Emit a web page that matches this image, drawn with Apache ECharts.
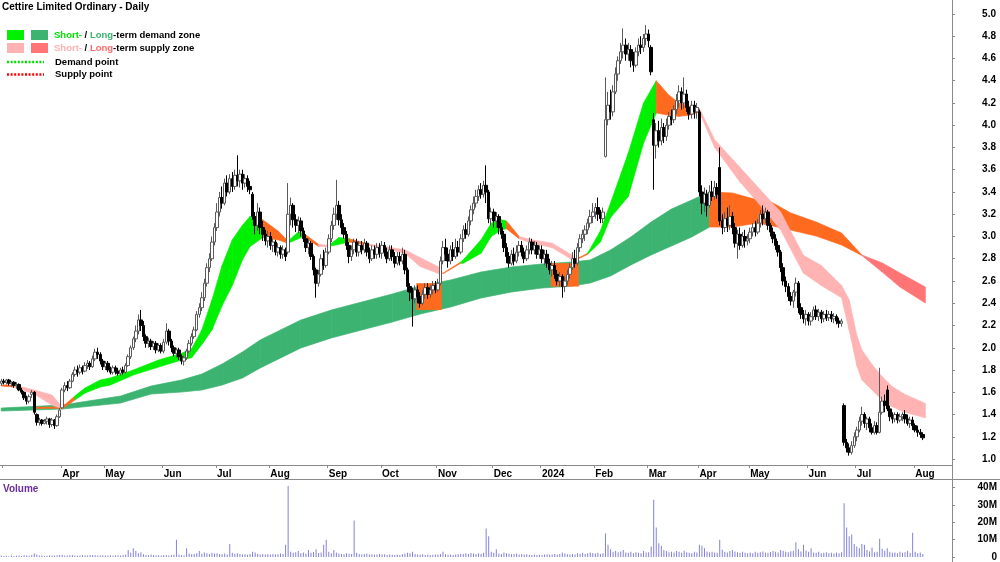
<!DOCTYPE html>
<html><head><meta charset="utf-8">
<script src="https://cdn.jsdelivr.net/npm/echarts@6/dist/echarts.min.js"></script>
<style>html,body{margin:0;padding:0;background:#fff}#c{width:1000px;height:562px}</style>
</head><body><div id="c"></div>
<script>
// ---------- calendar ----------
const firstDay = '2023-02-28';
const extraSlots = 11; // empty trading days at right edge
const holidays = ['2023-04-07','2023-04-10','2023-04-25','2023-06-12','2023-12-25','2023-12-26',
  '2024-01-01','2024-01-26','2024-03-29','2024-04-01','2024-04-25','2024-06-10'];
const monthNames = ['Jan','Feb','Mar','Apr','May','Jun','Jul','Aug','Sep','Oct','Nov','Dec'];

// ---------- tick labels ----------
const priceTicks = [1.0,1.2,1.4,1.6,1.8,2.0,2.2,2.4,2.6,2.8,3.0,3.2,3.4,3.6,3.8,4.0,4.2,4.4,4.6,4.8,5.0];
const volumeTicks = [0,10,20,30,40]; // millions

// ---------- daily candles [open, close, low, high] ----------
const candles = [
// 2023 Feb 28 + Mar
[1.68,1.70,1.66,1.72],[1.70,1.69,1.67,1.72],[1.69,1.71,1.67,1.72],[1.71,1.68,1.66,1.72],[1.68,1.69,1.65,1.70],[1.69,1.66,1.64,1.70],[1.66,1.67,1.63,1.69],[1.67,1.62,1.61,1.68],[1.62,1.60,1.58,1.64],[1.60,1.55,1.53,1.61],[1.55,1.52,1.49,1.57],[1.52,1.56,1.50,1.58],[1.58,1.60,1.55,1.62],[1.60,1.42,1.40,1.61],[1.40,1.33,1.30,1.41],[1.33,1.35,1.30,1.37],[1.35,1.32,1.30,1.36],[1.32,1.34,1.31,1.36],[1.34,1.36,1.31,1.38],[1.36,1.31,1.28,1.37],[1.31,1.35,1.29,1.37],[1.35,1.30,1.27,1.36],[1.30,1.38,1.29,1.40],[1.38,1.44,1.37,1.46],
// Apr
[1.46,1.62,1.45,1.64],[1.62,1.66,1.60,1.69],[1.66,1.64,1.61,1.70],[1.64,1.70,1.63,1.72],[1.70,1.76,1.69,1.78],[1.76,1.80,1.74,1.83],[1.80,1.78,1.74,1.84],[1.78,1.82,1.76,1.85],[1.82,1.79,1.76,1.84],[1.79,1.84,1.78,1.87],[1.84,1.86,1.81,1.89],[1.86,1.83,1.80,1.88],[1.83,1.90,1.82,1.93],[1.90,1.96,1.88,1.99],[1.96,1.94,1.90,2.00],[1.94,1.88,1.85,1.96],[1.88,1.83,1.80,1.90],
// May
[1.83,1.86,1.80,1.88],[1.86,1.80,1.78,1.88],[1.80,1.78,1.76,1.83],[1.78,1.82,1.76,1.84],[1.82,1.79,1.76,1.84],[1.79,1.77,1.75,1.82],[1.77,1.80,1.75,1.82],[1.80,1.78,1.76,1.83],[1.78,1.84,1.77,1.86],[1.84,1.92,1.83,1.94],[1.92,2.00,1.90,2.02],[2.00,2.08,1.98,2.10],[2.08,2.15,2.05,2.20],[2.15,2.25,2.12,2.30],[2.25,2.20,2.15,2.34],[2.20,2.10,2.06,2.24],[2.10,2.04,2.00,2.12],[2.04,2.06,2.00,2.09],[2.06,2.01,1.98,2.08],[2.01,2.04,1.98,2.06],[2.04,1.98,1.95,2.06],[1.98,2.02,1.96,2.04],[2.02,1.97,1.95,2.04],
// Jun
[1.97,2.05,1.95,2.08],[2.05,2.15,2.03,2.22],[2.15,2.06,2.02,2.17],[2.06,2.00,1.96,2.08],[2.00,1.95,1.92,2.02],[1.95,1.98,1.91,2.00],[1.98,1.92,1.89,2.00],[1.92,1.88,1.85,1.94],[1.88,1.91,1.84,1.93],[1.91,1.97,1.89,1.99],[1.97,2.04,1.95,2.07],[2.04,2.10,2.02,2.13],[2.10,2.16,2.08,2.19],[2.16,2.30,2.15,2.33],[2.30,2.36,2.27,2.40],[2.36,2.45,2.33,2.50],[2.45,2.58,2.42,2.62],[2.58,2.72,2.55,2.76],[2.72,2.80,2.68,2.85],[2.80,2.95,2.78,3.00],[2.95,3.08,2.92,3.12],
// Jul
[3.08,3.22,3.05,3.30],[3.22,3.35,3.18,3.40],[3.35,3.30,3.25,3.45],[3.30,3.48,3.28,3.52],[3.48,3.40,3.36,3.55],[3.40,3.52,3.38,3.56],[3.52,3.45,3.40,3.58],[3.45,3.55,3.42,3.60],[3.55,3.50,3.45,3.73],[3.50,3.56,3.44,3.60],[3.56,3.48,3.42,3.60],[3.48,3.52,3.44,3.56],[3.52,3.45,3.40,3.55],[3.45,3.42,3.38,3.50],[3.38,3.18,3.15,3.40],[3.18,3.10,3.02,3.22],[3.10,3.22,3.05,3.30],[3.22,3.08,3.02,3.26],[3.08,3.02,2.96,3.14],[3.02,2.96,2.92,3.06],[2.96,3.00,2.90,3.05],
// Aug
[3.00,2.92,2.88,3.04],[2.92,2.95,2.86,2.98],[2.95,2.86,2.83,2.97],[2.86,2.90,2.82,2.94],[2.90,2.84,2.80,2.92],[2.84,2.88,2.80,2.92],[2.88,2.82,2.78,2.90],[2.86,3.20,2.84,3.48],[3.20,3.28,3.10,3.35],[3.28,3.15,3.08,3.30],[3.15,3.10,3.04,3.20],[3.10,3.14,3.03,3.18],[3.14,3.05,3.00,3.17],[3.05,2.98,2.95,3.08],[2.98,2.90,2.86,3.02],[2.90,2.94,2.84,2.98],[2.94,2.82,2.79,2.96],[2.82,2.70,2.65,2.84],[2.70,2.58,2.45,2.72],[2.58,2.66,2.55,2.70],[2.66,2.80,2.64,2.84],[2.80,2.74,2.70,2.88],[2.74,2.86,2.72,2.90],
// Sep
[2.86,2.98,2.84,3.02],[2.98,3.10,2.95,3.14],[3.10,3.20,3.06,3.26],[3.20,3.28,3.15,3.51],[3.28,3.15,3.10,3.32],[3.15,3.08,3.02,3.20],[3.08,3.02,2.98,3.12],[3.02,2.92,2.88,3.05],[2.92,2.82,2.76,2.95],[2.82,2.88,2.78,2.92],[2.88,2.95,2.84,2.98],[2.95,2.86,2.82,2.98],[2.86,2.92,2.82,2.96],[2.92,2.88,2.84,2.96],[2.88,2.94,2.85,2.98],[2.94,2.86,2.82,2.96],[2.86,2.80,2.76,2.90],[2.80,2.88,2.78,2.92],[2.88,2.84,2.80,2.92],[2.84,2.90,2.80,2.94],[2.90,2.85,2.81,2.94],
// Oct
[2.85,2.92,2.80,2.96],[2.92,2.86,2.82,2.95],[2.86,2.80,2.76,2.90],[2.80,2.88,2.78,2.92],[2.88,2.82,2.78,2.92],[2.82,2.76,2.72,2.86],[2.76,2.82,2.74,2.86],[2.82,2.78,2.74,2.86],[2.78,2.84,2.75,2.90],[2.84,2.70,2.66,2.88],[2.70,2.55,2.50,2.72],[2.55,2.50,2.42,2.58],[2.50,2.44,2.19,2.54],[2.44,2.52,2.40,2.56],[2.52,2.46,2.40,2.56],[2.46,2.40,2.36,2.50],[2.40,2.48,2.38,2.52],[2.48,2.54,2.44,2.58],[2.54,2.48,2.44,2.58],[2.48,2.52,2.45,2.56],[2.52,2.56,2.48,2.60],[2.56,2.52,2.49,2.60],
// Nov
[2.52,2.58,2.50,2.62],[2.58,2.78,2.56,2.82],[2.78,2.90,2.75,2.96],[2.90,2.84,2.78,2.98],[2.84,2.78,2.72,2.90],[2.78,2.88,2.75,2.92],[2.88,2.82,2.78,2.95],[2.82,2.90,2.80,2.98],[2.90,2.86,2.82,2.96],[2.86,2.98,2.84,3.02],[2.98,3.06,2.95,3.10],[3.06,3.02,2.98,3.12],[3.02,3.14,3.00,3.18],[3.14,3.24,3.10,3.28],[3.24,3.30,3.20,3.36],[3.30,3.36,3.26,3.42],[3.36,3.42,3.32,3.46],[3.42,3.38,3.34,3.48],[3.38,3.46,3.35,3.50],[3.46,3.40,3.30,3.64],[3.40,3.16,3.12,3.42],[3.16,3.22,3.10,3.26],
// Dec
[3.22,3.14,3.08,3.25],[3.14,3.18,3.08,3.22],[3.18,3.08,3.02,3.20],[3.08,3.02,2.98,3.12],[3.02,2.90,2.86,3.05],[2.90,2.82,2.76,2.94],[2.82,2.76,2.72,2.86],[2.76,2.84,2.74,2.88],[2.84,2.78,2.74,2.90],[2.78,2.86,2.76,2.92],[2.86,2.92,2.82,2.96],[2.92,2.86,2.82,2.96],[2.86,2.80,2.76,2.90],[2.80,2.88,2.78,2.92],[2.88,2.95,2.84,2.99],[2.95,2.88,2.84,2.98],[2.88,2.92,2.84,2.96],[2.92,2.84,2.80,2.95],[2.84,2.88,2.80,2.92],
// 2024 Jan
[2.88,2.80,2.76,2.92],[2.80,2.84,2.74,2.88],[2.84,2.76,2.72,2.88],[2.76,2.70,2.66,2.80],[2.70,2.74,2.64,2.78],[2.74,2.66,2.62,2.78],[2.66,2.60,2.56,2.70],[2.60,2.64,2.55,2.68],[2.64,2.55,2.45,2.66],[2.55,2.60,2.50,2.64],[2.60,2.66,2.56,2.70],[2.66,2.72,2.62,2.76],[2.72,2.80,2.70,2.86],[2.80,2.76,2.72,2.88],[2.76,2.90,2.74,2.94],[2.90,2.98,2.86,3.02],[2.98,3.02,2.94,3.06],[3.02,3.06,2.96,3.10],[3.06,3.12,3.02,3.16],[3.12,3.18,3.08,3.24],[3.18,3.22,3.12,3.30],
// Feb
[3.22,3.26,3.16,3.30],[3.26,3.20,3.14,3.35],[3.20,3.16,3.12,3.24],[3.16,3.22,3.12,3.26],[3.72,4.05,3.71,4.43],[4.05,4.18,4.00,4.30],[4.18,4.12,4.05,4.32],[4.12,4.30,4.08,4.36],[4.30,4.46,4.28,4.52],[4.46,4.58,4.40,4.62],[4.58,4.66,4.55,4.74],[4.66,4.72,4.60,4.87],[4.72,4.64,4.58,4.78],[4.64,4.68,4.58,4.74],[4.68,4.58,4.52,4.72],[4.58,4.54,4.48,4.66],[4.54,4.66,4.52,4.70],[4.66,4.72,4.62,4.78],[4.72,4.70,4.64,4.80],[4.70,4.78,4.66,4.82],[4.78,4.82,4.72,4.90],
// Mar
[4.82,4.76,4.70,4.86],[4.70,4.48,4.45,4.72],[4.05,3.82,3.42,4.11],[3.82,3.95,3.70,4.02],[3.95,3.86,3.80,4.04],[3.86,3.98,3.82,4.06],[3.98,3.90,3.84,4.02],[3.90,4.00,3.86,4.06],[4.00,4.08,3.96,4.12],[4.08,4.05,4.00,4.14],[4.05,4.14,4.02,4.18],[4.14,4.22,4.10,4.28],[4.22,4.30,4.16,4.36],[4.30,4.20,4.14,4.34],[4.20,4.28,4.15,4.43],[4.28,4.16,4.12,4.32],[4.16,4.10,4.05,4.22],[4.10,4.18,4.06,4.22],[4.18,4.12,4.06,4.22],[4.12,4.16,4.06,4.20],
// Apr
[4.12,3.40,3.36,4.14],[3.40,3.30,3.20,3.46],[3.30,3.38,3.22,3.44],[3.38,3.28,3.18,3.42],[3.28,3.40,3.26,3.46],[3.40,3.36,3.32,3.50],[3.36,3.44,3.33,3.50],[3.44,3.38,3.34,3.48],[3.62,3.14,3.10,3.80],[3.14,3.08,3.02,3.20],[3.08,3.16,3.04,3.22],[3.16,3.10,3.04,3.26],[3.10,3.18,3.06,3.28],[3.18,3.08,3.02,3.22],[3.08,2.94,2.90,3.12],[2.94,3.02,2.80,3.06],[3.02,2.92,2.88,3.08],[2.92,3.00,2.90,3.04],[3.00,2.96,2.90,3.06],[2.96,2.98,2.92,3.02],
// May
[2.98,3.04,2.94,3.08],[3.04,3.08,3.00,3.12],[3.08,3.04,3.00,3.14],[3.04,3.12,3.02,3.16],[3.12,3.20,3.08,3.24],[3.20,3.16,3.10,3.28],[3.16,3.22,3.12,3.26],[3.22,3.10,3.06,3.24],[3.10,3.04,3.00,3.12],[3.04,2.98,2.94,3.08],[2.98,2.92,2.88,3.02],[2.92,2.86,2.82,2.96],[2.86,2.72,2.68,2.88],[2.72,2.60,2.56,2.76],[2.60,2.55,2.50,2.64],[2.55,2.46,2.42,2.58],[2.46,2.42,2.38,2.50],[2.42,2.50,2.36,2.52],[2.50,2.58,2.46,2.63],[2.58,2.36,2.31,2.60],[2.36,2.30,2.26,2.40],[2.30,2.26,2.22,2.34],[2.26,2.30,2.20,2.34],
// Jun
[2.30,2.24,2.20,2.32],[2.24,2.28,2.20,2.32],[2.28,2.34,2.25,2.37],[2.34,2.28,2.25,2.38],[2.28,2.32,2.24,2.35],[2.32,2.26,2.22,2.34],[2.26,2.30,2.23,2.33],[2.30,2.27,2.24,2.34],[2.27,2.30,2.24,2.33],[2.30,2.26,2.23,2.33],[2.26,2.28,2.22,2.31],[2.28,2.24,2.21,2.30],[2.24,2.22,2.18,2.27],[2.22,2.24,2.19,2.26],[1.48,1.15,1.12,1.50],[1.15,1.10,1.06,1.18],[1.10,1.06,1.03,1.14],[1.06,1.12,1.04,1.16],[1.12,1.20,1.10,1.24],
// Jul
[1.20,1.26,1.16,1.29],[1.26,1.34,1.24,1.38],[1.34,1.40,1.30,1.47],[1.40,1.32,1.28,1.42],[1.32,1.36,1.26,1.38],[1.36,1.28,1.24,1.38],[1.28,1.24,1.22,1.32],[1.24,1.30,1.22,1.34],[1.30,1.24,1.22,1.33],[1.24,1.42,1.23,1.82],[1.42,1.52,1.40,1.56],[1.52,1.48,1.42,1.58],[1.62,1.45,1.43,1.66],[1.45,1.38,1.34,1.48],[1.38,1.36,1.32,1.42],[1.36,1.40,1.33,1.42],[1.40,1.35,1.32,1.42],[1.35,1.38,1.33,1.41],[1.38,1.40,1.34,1.42],[1.40,1.36,1.32,1.44],[1.36,1.32,1.30,1.40],[1.32,1.35,1.28,1.38],[1.35,1.30,1.26,1.38],
// Aug
[1.30,1.26,1.24,1.32],[1.26,1.24,1.20,1.30],[1.24,1.22,1.19,1.27],[1.22,1.19,1.17,1.24]
];

// ---------- daily volume (millions) ----------
const volumes = [
0.8,0.6,0.7,0.5,0.9,0.6,0.7,0.8,0.6,1.0,0.9,0.7,1.1,2.0,1.4,0.9,0.8,0.6,0.7,0.9,0.8,0.7,1.0,1.2,
1.3,0.9,0.8,1.0,1.1,0.9,0.7,0.8,1.0,0.9,0.8,1.1,1.2,1.0,0.9,0.8,1.0,
0.9,0.8,1.0,0.7,0.9,1.0,0.8,1.2,1.5,4.0,2.5,5.0,3.5,2.2,2.8,1.6,1.2,1.0,1.4,1.1,0.9,1.0,0.8,
1.0,1.2,0.9,1.1,1.3,10.0,1.5,1.0,0.8,5.0,2.0,1.6,1.8,2.2,3.5,1.9,2.6,2.1,1.8,2.4,2.0,
2.2,1.8,1.6,2.0,1.5,7.5,2.4,1.9,2.1,1.7,1.4,1.6,1.3,1.8,3.0,2.6,1.9,1.5,1.7,1.4,1.6,
1.5,1.8,1.4,1.6,2.0,1.7,7.0,41.0,3.0,2.4,2.8,3.5,2.2,2.6,2.0,4.0,2.4,2.9,4.5,2.3,2.6,7.0,10.0,
3.0,2.2,4.0,2.6,2.0,1.8,1.6,2.1,1.9,1.7,21.0,2.5,1.8,1.5,1.7,2.0,1.4,1.6,1.3,1.5,1.8,
1.4,1.6,1.2,1.5,1.3,1.1,1.4,1.2,1.6,2.0,2.4,2.2,3.0,1.8,1.5,1.3,1.6,1.2,1.4,1.1,1.3,1.5,
1.4,1.8,3.0,1.6,1.3,1.5,1.2,1.4,1.6,1.9,1.7,2.1,1.8,2.3,2.0,1.8,2.2,1.9,2.4,16.5,12.0,3.0,
2.4,4.5,2.0,1.8,2.6,2.2,1.9,1.6,1.8,2.0,1.5,1.7,1.4,1.6,1.3,1.2,1.5,1.1,1.3,
1.2,1.4,1.6,1.3,1.5,1.8,1.4,1.7,2.6,2.0,1.6,1.4,1.8,1.5,2.2,1.9,2.4,1.7,2.1,2.6,2.3,
2.0,2.5,1.8,2.2,13.5,7.0,4.5,3.0,3.6,2.8,3.2,4.0,2.6,2.4,3.0,2.2,2.8,2.5,2.1,3.4,2.6,
2.8,6.0,33.0,17.0,8.0,6.5,4.0,3.5,2.8,3.0,2.6,3.4,3.0,2.5,3.6,2.8,2.4,2.2,3.0,2.6,
7.0,6.5,5.0,3.2,2.8,3.0,2.6,2.4,10.0,4.2,3.0,2.6,3.4,4.0,3.2,2.8,2.5,3.0,2.4,2.2,
2.6,2.2,3.0,2.4,2.8,3.2,2.6,2.4,2.9,3.4,3.0,2.6,4.0,3.6,3.0,2.8,3.3,3.6,8.5,4.5,3.2,7.0,3.8,
3.0,5.0,2.6,2.4,3.0,2.2,2.5,2.8,2.1,2.4,2.0,2.6,2.2,2.8,31.0,17.0,12.0,13.0,7.5,
6.0,5.0,7.5,7.0,4.0,3.2,5.5,2.8,3.0,10.5,4.8,3.6,5.0,3.0,2.4,2.6,2.2,3.0,2.5,2.8,3.6,2.4,14.0,
3.0,2.2,2.6,1.8
];

// ---------- short-term zone: day index, upper, lower, colour per segment ----------
const stIdx = [0,5,13,20,24,29,33,39,43,52, 62,71,75,79,83,87,91,95,98,103, 109,113,117,119,125,129,133,137,145,159,
  165,172,174,181,182,189,193,197,199,204, 209,217,225,226,231,236,240,247,253,258, 263,267,271,275,281,291,299,307,316,323,
  331,334,337,339,343,347,351,356,364];
const stTop = [1.665,1.665,1.620,1.575,1.467,1.566,1.638,1.710,1.728,1.800, 1.890,1.950,1.990,2.160,2.430,2.740,2.970,3.100,3.180,3.150,
  3.050,2.960,3.040,3.030,2.930,2.920,2.990,2.980,2.930,2.880, 2.810,2.730,2.670,2.770,2.790,2.970,3.120,3.150,3.140,3.000,
  2.970,2.940,2.830,2.790,2.850,3.050,3.300,3.750,4.200,4.400, 4.270,4.200,4.170,4.150,3.870,3.620,3.420,3.220,2.830,2.740,
  2.560,2.430,2.110,1.980,1.850,1.740,1.650,1.580,1.500];
const stBot = [1.656,1.647,1.584,1.485,1.449,1.530,1.593,1.647,1.665,1.755, 1.827,1.890,1.910,2.030,2.160,2.380,2.560,2.790,2.910,2.990,
  2.970,2.940,2.980,3.000,2.910,2.910,2.930,2.950,2.920,2.850, 2.730,2.670,2.665,2.760,2.760,2.850,3.000,3.060,3.070,2.980,
  2.940,2.900,2.790,2.785,2.840,2.950,3.170,3.360,3.840,4.110, 4.090,4.080,4.090,4.120,3.800,3.490,3.280,3.060,2.670,2.560,
  2.450,2.160,1.840,1.710,1.620,1.530,1.470,1.420,1.370];
const stCol = 'OPPPO' + 'GGGGGGGGGGGGGG' + 'OOGGOPGGOPPPPOGGGGGOPPPPOGGGGGOOOO' + 'PPPPPPPPPPPPPPP';

// ---------- long-term zone ----------
const ltIdx = [0,24,47,59,71,79,87,95,102,110, 118,130,142,154,165,177,189,201,213,225, 232,240,248,256,264,272,279,288,298,304,
  311,321,331,339,347,354,364];
const ltTop = [1.458,1.485,1.566,1.656,1.710,1.764,1.854,1.962,2.070,2.160, 2.249,2.339,2.411,2.483,2.555,2.609,2.681,2.726,2.753,2.771,
  2.789,2.879,2.996,3.130,3.247,3.328,3.400,3.391,3.328,3.301, 3.211,3.130,3.031,2.834,2.762,2.672,2.546];
const ltBot = [1.431,1.449,1.503,1.584,1.602,1.620,1.665,1.728,1.818,1.908, 1.998,2.088,2.160,2.231,2.303,2.366,2.447,2.501,2.537,2.555,
  2.582,2.645,2.744,2.834,2.915,2.996,3.085,3.085,3.121,3.094, 3.058,3.004,2.924,2.830,2.681,2.546,2.402];
const ltCol = 'DDDDDDDDDDDDDDDDDDDDDDDDDD' + 'OOOOOOO' + 'RRR';

// ---------- overlap boxes: first day, last day, upper, lower ----------
const boxStart = [13, 164, 217];
const boxEnd   = [23, 173, 227];
const boxTop   = [1.470, 2.58, 2.76];
const boxBot   = [1.452, 2.34, 2.55];

const COLORS = {G:'#00F000', D:'#3CB371', O:'#FF6A1F', P:'#FFB3B3', R:'#FF7575'};

// ---------- build ----------
function tradingDays(start, n, hol) {
  const out = []; const d = new Date(start + 'T00:00:00Z');
  while (out.length < n) {
    const dow = d.getUTCDay(); const s = d.toISOString().slice(0, 10);
    if (dow !== 0 && dow !== 6 && hol.indexOf(s) < 0) out.push(s);
    d.setUTCDate(d.getUTCDate() + 1);
  }
  return out;
}
const dates = tradingDays(firstDay, candles.length + extraSlots, holidays);
const isMonthStart = (i) => i > 0 && dates[i].slice(0, 7) !== dates[i - 1].slice(0, 7);

function bandSeries(idx, top, bot, cols, z) {
  const data = [];
  for (let k = 0; k < idx.length - 1; k++) data.push([idx[k], top[k], bot[k], idx[k + 1], top[k + 1], bot[k + 1], k]);
  return {
    type: 'custom', xAxisIndex: 0, yAxisIndex: 0, z: z, silent: true, data: data,
    renderItem: function (params, api) {
      const a = api.coord([api.value(0), api.value(1)]);
      const b = api.coord([api.value(3), api.value(4)]);
      const c = api.coord([api.value(3), api.value(5)]);
      const d = api.coord([api.value(0), api.value(2)]);
      const col = COLORS[cols[api.value(6)]];
      return {type: 'polygon', shape: {points: [a, b, c, d]}, style: {fill: col, stroke: col, lineWidth: 0.7}};
    }
  };
}
const boxData = boxStart.map((s, k) => [s, boxTop[k], boxEnd[k], boxBot[k]]);

const chart = echarts.init(document.getElementById('c'), null, {renderer: 'canvas'});
const axisGray = '#8a8a8a';
const labelFont = {fontFamily: '"Liberation Sans", Arial, sans-serif', fontWeight: 'bold', fontSize: 10, color: '#000'};

chart.setOption({
  animation: false,
  backgroundColor: '#ffffff',
  grid: [
    {left: 0, right: 48, top: 0, height: 465},
    {left: 0, right: 48, top: 479, height: 81}
  ],
  xAxis: [
    {type: 'category', gridIndex: 0, data: dates, boundaryGap: true,
      axisLine: {show: true, lineStyle: {color: axisGray, width: 1}},
      axisTick: {show: true, length: 3, interval: (i) => isMonthStart(i), lineStyle: {color: axisGray}},
      axisLabel: Object.assign({show: true, interval: (i) => isMonthStart(i) && i > 5, align: 'left', margin: 4,
        formatter: (v) => { const m = +v.slice(5, 7) - 1; return m === 0 ? v.slice(0, 4) : monthNames[m]; }}, labelFont),
      splitLine: {show: false}},
    {type: 'category', gridIndex: 1, data: dates, boundaryGap: true, show: false}
  ],
  yAxis: [
    {type: 'value', gridIndex: 0, position: 'right', min: 0.9461, max: 5.1258, scale: true,
      axisLine: {show: true, lineStyle: {color: axisGray}},
      axisTick: {show: true, length: 3, customValues: priceTicks, lineStyle: {color: axisGray}},
      axisLabel: Object.assign({show: true, customValues: priceTicks, align: 'right', margin: 44,
        formatter: (v) => v.toFixed(1)}, labelFont),
      splitLine: {show: false}},
    {type: 'value', gridIndex: 1, position: 'right', min: 0, max: 45,
      axisLine: {show: true, lineStyle: {color: axisGray}},
      axisTick: {show: true, length: 3, customValues: volumeTicks, lineStyle: {color: axisGray}},
      axisLabel: Object.assign({show: true, customValues: volumeTicks, align: 'right', margin: 45,
        formatter: (v) => v === 0 ? '0' : v + 'M'}, labelFont),
      splitLine: {show: false}}
  ],
  series: [
    bandSeries(ltIdx, ltTop, ltBot, ltCol, 1),
    {type: 'custom', xAxisIndex: 0, yAxisIndex: 0, z: 2, silent: true, data: boxData,
      renderItem: function (params, api) {
        const bw = api.size([1, 0])[0];
        const p1 = api.coord([api.value(0), api.value(1)]);
        const p2 = api.coord([api.value(2), api.value(3)]);
        return {type: 'rect', shape: {x: p1[0] - bw / 2, y: p1[1], width: p2[0] - p1[0] + bw, height: p2[1] - p1[1]},
          style: {fill: COLORS.O}};
      }},
    bandSeries(stIdx, stTop, stBot, stCol, 3),
    {type: 'candlestick', xAxisIndex: 0, yAxisIndex: 0, z: 5, silent: true, data: candles, barWidth: 3,
      itemStyle: {color: '#ffffff', color0: '#000000', borderColor: '#5a5a5a', borderColor0: '#000000', borderWidth: 1}},
    {type: 'bar', xAxisIndex: 1, yAxisIndex: 1, silent: true, data: volumes, barWidth: 1,
      itemStyle: {color: '#8282DC'}}
  ],
  graphic: [
    {type: 'line', shape: {x1: 0, y1: 479.5, x2: 1000, y2: 479.5}, style: {stroke: axisGray, lineWidth: 1}, silent: true},
    {type: 'line', shape: {x1: 952.5, y1: 0, x2: 952.5, y2: 562}, style: {stroke: axisGray, lineWidth: 1}, silent: true},
    {type: 'text', x: 2, y: 7, style: {text: 'Cettire Limited Ordinary - Daily', font: 'bold 10px "Liberation Sans", Arial', fill: '#000', verticalAlign: 'middle'}},
    {type: 'rect', shape: {x: 7, y: 30, width: 17, height: 10}, style: {fill: COLORS.G}},
    {type: 'rect', shape: {x: 31, y: 30, width: 17, height: 10}, style: {fill: COLORS.D}},
    {type: 'rect', shape: {x: 7, y: 43, width: 17, height: 10}, style: {fill: COLORS.P}},
    {type: 'rect', shape: {x: 31, y: 43, width: 17, height: 10}, style: {fill: COLORS.R}},
    {type: 'text', x: 54, y: 35, style: {text: '{a|Short-} / {b|Long}-term demand zone', font: 'bold 9.5px "Liberation Sans", Arial', fill: '#000', verticalAlign: 'middle',
      rich: {a: {fill: '#00E000', font: 'bold 9.5px "Liberation Sans", Arial'}, b: {fill: '#3CB371', font: 'bold 9.5px "Liberation Sans", Arial'}}}},
    {type: 'text', x: 54, y: 48, style: {text: '{a|Short-} / {b|Long}-term supply zone', font: 'bold 9.5px "Liberation Sans", Arial', fill: '#000', verticalAlign: 'middle',
      rich: {a: {fill: '#FFB0B0', font: 'bold 9.5px "Liberation Sans", Arial'}, b: {fill: '#FF6A6A', font: 'bold 9.5px "Liberation Sans", Arial'}}}},
    {type: 'line', shape: {x1: 7, y1: 62, x2: 44, y2: 62}, style: {stroke: '#00DD00', lineWidth: 2.5, lineDash: [2, 1.6]}},
    {type: 'line', shape: {x1: 7, y1: 74.5, x2: 44, y2: 74.5}, style: {stroke: '#FF0000', lineWidth: 2.5, lineDash: [2, 1.6]}},
    {type: 'text', x: 55, y: 62, style: {text: 'Demand point', font: 'bold 9.5px "Liberation Sans", Arial', fill: '#000', verticalAlign: 'middle'}},
    {type: 'text', x: 55, y: 74.5, style: {text: 'Supply point', font: 'bold 9.5px "Liberation Sans", Arial', fill: '#000', verticalAlign: 'middle'}},
    {type: 'text', x: 3, y: 489, style: {text: 'Volume', font: 'bold 10px "Liberation Sans", Arial', fill: '#6A2C9E', verticalAlign: 'middle'}}
  ]
});
if (candles.length !== volumes.length || stTop.length !== stIdx.length || stBot.length !== stIdx.length || stCol.length !== stIdx.length - 1 || ltCol.length !== ltIdx.length - 1) {
  setTimeout(() => { throw new Error('length mismatch ' + [candles.length, volumes.length, stIdx.length, stTop.length, stBot.length, stCol.length, ltIdx.length, ltCol.length].join(',')); }, 0);
}
</script></body></html>
